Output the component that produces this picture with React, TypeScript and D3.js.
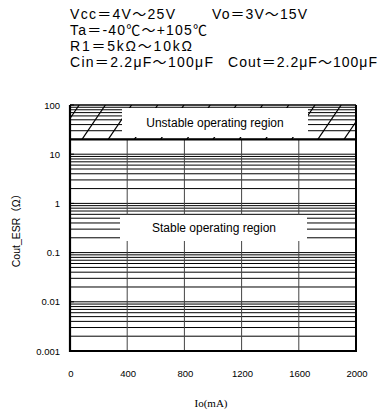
import React from "react";
import * as d3 from "d3";

const conditionLines = [
  ["Vcc＝4V～25V", "Vo＝3V～15V"],
  ["Ta＝-40℃～+105℃"],
  ["R1＝5kΩ～10kΩ"],
  ["Cin＝2.2μF～100μF", "Cout＝2.2μF～100μF"],
];
const xTicks = [0, 400, 800, 1200, 1600, 2000];
const xGrid = [400, 800, 1200, 1600];
const yTicks = [0.001, 0.01, 0.1, 1, 10, 100];
const yTickLabels = ["0.001", "0.01", "0.1", "1", "10", "100"];
const decades = [0.001, 0.01, 0.1, 1, 10];
const minorMultipliers = [1, 2, 3, 4, 5, 6, 7, 8, 9];
const boundaryESR = 20;
const xDomain = [0, 2000];
const yDomain = [0.001, 100];
const regionLabels = { unstable: "Unstable operating region", stable: "Stable operating region" };

export default function App() {
  const L = 70, R = 356, T = 105, B = 351;
  const x = d3.scaleLinear().domain(xDomain).range([L, R]);
  const y = d3.scaleLog().domain(yDomain).range([B, T]);
  const yb = y(boundaryESR);

  const hLines: number[] = [];
  decades.forEach((d) => minorMultipliers.forEach((m) => hLines.push(d * m)));

  const hatchSpacing = 26.2;
  const hatchSlope = 0.68;
  const hatchStarts = d3.range(-2, 11).map((k) => 82 + k * hatchSpacing);

  const sans = "'Liberation Sans', Arial, 'Noto Sans CJK JP', sans-serif";
  const cond = [
    { y: 19, xs: [70, 212], w: [105, 95] },
    { y: 35, xs: [70], w: [137] },
    { y: 51, xs: [70], w: [122] },
    { y: 67, xs: [70, 228], w: [143, 149] },
  ];

  return (
    <svg width={382} height={412} style={{ position: "absolute", left: 0, top: 0, background: "#fff" }}>
      <defs>
        <clipPath id="unst">
          <rect x={L} y={T} width={R - L} height={yb - T} />
        </clipPath>
      </defs>
      <rect x={0} y={0} width={382} height={412} fill="#fff" />
      {conditionLines.map((line, i) =>
        line.map((t, j) => (
          <text key={i + "-" + j} x={cond[i].xs[j]} y={cond[i].y} fontFamily={sans} fontSize={14}
            textLength={cond[i].w[j]} fill="#000">{t}</text>
        ))
      )}
      {hLines.map((v, i) => (
        <line key={"h" + i} x1={L} x2={R} y1={y(v)} y2={y(v)} stroke="#000" strokeWidth={1} />
      ))}
      {xGrid.map((v) => (
        <line key={"v" + v} x1={x(v)} x2={x(v)} y1={yb} y2={B} stroke="#444" strokeWidth={1} />
      ))}
      <g clipPath="url(#unst)">
        {hatchStarts.map((s, i) => (
          <line key={"ht" + i} x1={s} y1={yb} x2={s + hatchSlope * (yb - T)} y2={T} stroke="#000" strokeWidth={1.2} />
        ))}
      </g>
      <line x1={L} x2={R} y1={yb} y2={yb} stroke="#000" strokeWidth={2.2} />
      <rect x={122} y={108} width={186} height={29} fill="#fff" />
      <text x={215} y={127} textAnchor="middle" fontFamily={sans} fontSize={12}>{regionLabels.unstable}</text>
      <rect x={120} y={215} width={187} height={26} fill="#fff" />
      <text x={214} y={232} textAnchor="middle" fontFamily={sans} fontSize={12}>{regionLabels.stable}</text>
      <line x1={L} x2={R} y1={T} y2={T} stroke="#000" strokeWidth={1.5} />
      <line x1={L} x2={L} y1={T} y2={B + 1} stroke="#000" strokeWidth={2.2} />
      <line x1={R} x2={R} y1={T} y2={B + 1} stroke="#000" strokeWidth={2} />
      <line x1={L} x2={R} y1={B} y2={B} stroke="#000" strokeWidth={2} />
      {yTicks.map((v, i) => (
        <g key={"yt" + i}>
          <line x1={L} x2={L + 4} y1={y(v)} y2={y(v)} stroke="#000" strokeWidth={1} />
          <text x={60} y={y(v) + 3.5} textAnchor="end" fontFamily={sans} fontSize={9.5}>{yTickLabels[i]}</text>
        </g>
      ))}
      {xTicks.map((v) => (
        <text key={"xt" + v} x={x(v) + 1} y={377} textAnchor="middle" fontFamily={sans} fontSize={9.5}>{v}</text>
      ))}
      <text transform="translate(20,228) rotate(-90)" textAnchor="middle" fontFamily={sans} fontSize={10.5}>Cout_ESR（Ω）</text>
      <text x={211} y={407} textAnchor="middle" fontFamily="'Liberation Serif', 'DejaVu Serif', serif" fontSize={11}>Io(mA)</text>
    </svg>
  );
}
